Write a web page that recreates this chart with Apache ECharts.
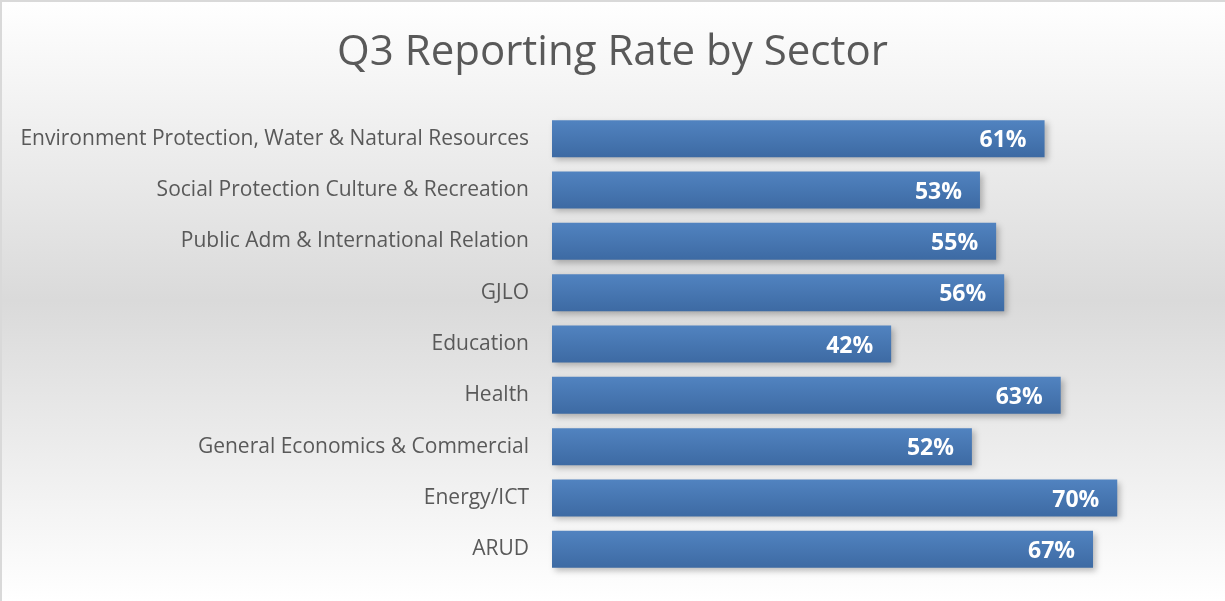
<!DOCTYPE html>
<html>
<head>
<meta charset="utf-8">
<script src="https://cdn.jsdelivr.net/npm/echarts@6/dist/echarts.min.js"></script>
<style>html,body{margin:0;padding:0;}#c{width:1225px;height:601px;}</style>
</head>
<body>
<div id="c"></div>
<script>
const categories = ["Environment Protection, Water & Natural Resources","Social Protection Culture & Recreation","Public Adm & International Relation","GJLO","Education","Health","General Economics & Commercial","Energy/ICT","ARUD"];
const rates = [61,53,55,56,42,63,52,70,67];

const chart = echarts.init(document.getElementById('c'));
chart.setOption({
  animation:false,
  backgroundColor:{type:'linear',x:0,y:0,x2:0,y2:1,colorStops:[{offset:0,color:'#ffffff'},{offset:0.5,color:'#dadada'},{offset:1,color:'#ffffff'}]},
  title:{text:'Q3 Reporting Rate by Sector',left:'center',top:27,textStyle:{fontFamily:'Open Sans',fontWeight:'normal',fontSize:42,color:'#595959'}},
  graphic:[
    {type:'line',shape:{x1:1,y1:0,x2:1,y2:601},style:{stroke:'#d9d9d9',lineWidth:2},silent:true},
    {type:'line',shape:{x1:0,y1:1,x2:1225,y2:1},style:{stroke:'#d9d9d9',lineWidth:2},silent:true}
  ],
  grid:{left:552,right:27,top:113,bottom:26,containLabel:false},
  xAxis:{type:'value',min:0,max:80,show:false},
  yAxis:{type:'category',data:categories,inverse:true,axisLine:{show:false},axisTick:{show:false},
    axisLabel:{margin:23,fontFamily:'Open Sans',fontSize:21,color:'#595959',padding:[2,0,0,0]}},
  series:[{type:'bar',data:rates,barCategoryGap:'28%',
    itemStyle:{color:{type:'linear',x:0,y:0,x2:0,y2:1,colorStops:[{offset:0,color:'#5183c0'},{offset:1,color:'#3d6aa3'}]},
      shadowBlur:6,shadowOffsetX:3,shadowOffsetY:3,shadowColor:'rgba(0,0,0,0.25)'},
    label:{show:true,position:'insideRight',distance:18,offset:[0,2],formatter:p=>p.value+'%',color:'#ffffff',fontWeight:'bold',fontSize:23,fontFamily:'Open Sans'}
  }]
});
</script>
</body>
</html>
